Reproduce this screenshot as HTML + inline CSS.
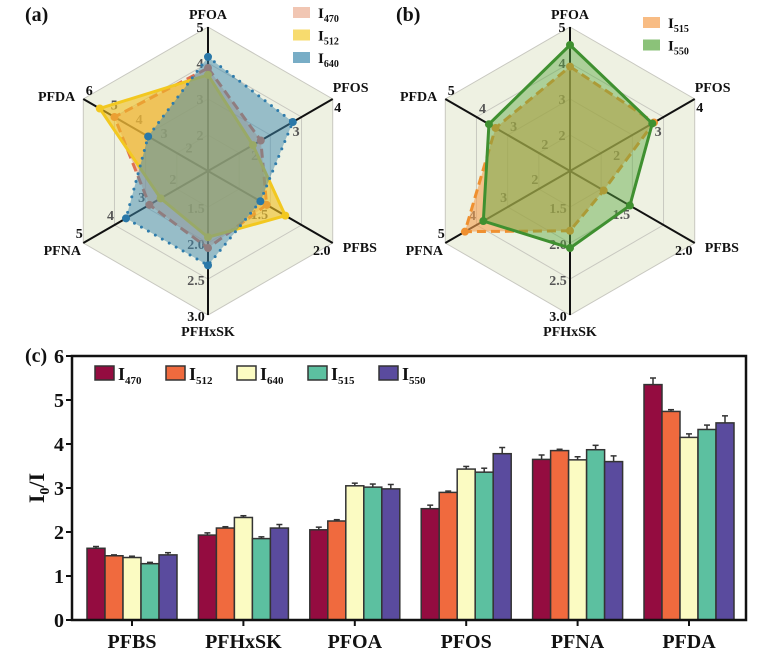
<!DOCTYPE html>
<html><head><meta charset="utf-8"><style>
body{margin:0;background:#fff}
svg{display:block;font-family:"Liberation Serif",serif;font-weight:bold}
</style></head><body>
<svg id="s" width="775" height="656" viewBox="0 0 775 656"></svg>
<script>
const categories=["PFBS","PFHxSK","PFOA","PFOS","PFNA","PFDA"];
const seriesNames=["470","512","640","515","550"];
const v470=[1.63,1.93,2.05,2.53,3.65,5.35];
const v512=[1.46,2.09,2.25,2.90,3.85,4.74];
const v640=[1.42,2.33,3.05,3.43,3.64,4.15];
const v515=[1.28,1.85,3.02,3.36,3.87,4.33];
const v550=[1.48,2.09,2.98,3.78,3.60,4.48];
const e470=[0.04,0.05,0.06,0.08,0.1,0.15];
const e512=[0.02,0.03,0.03,0.03,0.03,0.04];
const e640=[0.03,0.04,0.06,0.06,0.07,0.08];
const e515=[0.03,0.04,0.07,0.09,0.1,0.1];
const e550=[0.05,0.08,0.1,0.14,0.13,0.16];
const yTicks=[0,1,2,3,4,5,6];
// radar data: axes order PFOA, PFOS, PFBS, PFHxSK, PFNA, PFDA
const radarAxes=["PFOA","PFOS","PFBS","PFHxSK","PFNA","PFDA"];
const aMin=[1,1,1,1,1,1];
const aMax=[5,4,2,3,5,6];
const bMax=[5,4,2,3,5,5];
const aI470=[3.86,2.27,1.47,2.07,2.88,4.75];
const aI512=[3.67,2.08,1.62,1.92,2.52,5.34];
const aI640=[4.17,3.04,1.42,2.31,3.63,3.4];
const bI515=[3.9,3.02,1.27,1.83,4.37,3.39];
const bI550=[4.5,2.98,1.48,2.07,3.78,3.6];
const aTickLabels=[["2","3","4","5"],["2","3","4"],["1.5","2.0"],["1.5","2.0","2.5","3.0"],["2","3","4","5"],["2","3","4","5","6"]];
const bTickLabels=[["2","3","4","5"],["2","3","4"],["1.5","2.0"],["1.5","2.0","2.5","3.0"],["2","3","4","5"],["2","3","4","5"]];

const S=document.getElementById('s');
const NS="http://www.w3.org/2000/svg";
function mk(t,at,p){const e=document.createElementNS(NS,t);for(const k in at)e.setAttribute(k,at[k]);(p||S).appendChild(e);return e;}

// ---------- radar ----------
const R=144;
const angles=[90,30,-30,-90,210,150];
const tickOff=[[-8,5],[5,13],[-11,12],[-12,6],[-4,-5],[6,-4]];
function rpt(cx,cy,i,r){const a=angles[i]*Math.PI/180;return [cx+r*Math.cos(a),cy-r*Math.sin(a)];}
function radar(cx,cy,maxs,tickLabels,series,legend,lx,ly,tag,label){
  const g=mk('g',{});
  
  
  const outer=[0,1,2,3,4,5].map(i=>rpt(cx,cy,i,R).join(',')).join(' ');
  mk('polygon',{points:outer,fill:'#eef1e2',stroke:'#c8c8c0','stroke-width':1},g);
  [0.25,0.5,0.75].forEach(f=>{
    mk('polygon',{points:[0,1,2,3,4,5].map(i=>rpt(cx,cy,i,R*f).join(',')).join(' '),fill:'none',stroke:'#c8c8c0','stroke-width':1},g);
  });
  for(let i=0;i<6;i++){const p=rpt(cx,cy,i,R);mk('line',{x1:cx,y1:cy,x2:p[0],y2:p[1],stroke:'#111','stroke-width':2},g);}
  for(let i=0;i<6;i++){
    const tl=tickLabels[i];const rng=maxs[i]-aMin[i];
    tl.forEach(t=>{
      const v=parseFloat(t);const r=(v-aMin[i])/rng*R;
      const p=rpt(cx,cy,i,r);
      const outerLbl=Math.abs(r-R)<1;
      const el=mk('text',{x:p[0]+tickOff[i][0],y:p[1]+tickOff[i][1],'font-size':14,fill:outerLbl?'#111':'#555','text-anchor':'middle'},g);
      el.textContent=t;
      
      
    });
  }
  series.forEach(s=>{
    const pts=s.vals.map((v,i)=>rpt(cx,cy,i,(v-aMin[i])/(maxs[i]-aMin[i])*R));
    const poly=mk('polygon',{points:pts.map(p=>p.join(',')).join(' '),fill:s.fill,'fill-opacity':s.op,stroke:s.stroke,'stroke-width':3,'stroke-dasharray':s.dash,'stroke-linecap':s.cap||'butt'},g);
    
    
    pts.forEach(p=>{const c=mk('circle',{cx:p[0],cy:p[1],r:4,fill:s.dot},g);
      
      });
  });
  const tp=[[cx,cy-R-8,'middle'],[cx+R*0.866,cy-R*0.5-7,'start'],[cx+R*0.866+10,cy+R*0.5+9,'start'],[cx,cy+R+21,'middle'],[cx-R*0.866-21,cy+R*0.5+12,'middle'],[cx-R*0.866-8,cy-R*0.5+2,'end']];
  radarAxes.forEach((n,i)=>{const t=mk('text',{x:tp[i][0],y:tp[i][1],'font-size':14,'text-anchor':tp[i][2],fill:'#111'},g);t.textContent=n;
    
    });
  legend.forEach((l,k)=>{
    mk('rect',{x:lx,y:ly+k*22.5,width:17,height:11,fill:l.fill,'fill-opacity':l.op+0.1},g);
    const t=mk('text',{x:lx+25,y:ly+k*22.5+11,'font-size':15,fill:'#111'},g);
    t.innerHTML='I<tspan font-size="10" dy="4">'+l.name+'</tspan>';
    
    
  });
  const lt=mk('text',{x:label[0],y:label[1],'font-size':20,fill:'#111'},g);lt.textContent=label[2];
}
radar(208,171,aMax,aTickLabels,[
  {name:'470',vals:aI470,fill:'#e8a080',op:0.5,stroke:'#e07050',dash:'9,5',dot:'#e07050'},
  {name:'512',vals:aI512,fill:'#f2c020',op:0.6,stroke:'#f2c820',dash:'none',dot:'#f2c820'},
  {name:'640',vals:aI640,fill:'#3f8aae',op:0.5,stroke:'#2f7cab',dash:'0,8',cap:'round',dot:'#2a78a8'}
],[{name:'470',fill:'#e8a080',op:0.5},{name:'512',fill:'#f2c820',op:0.55},{name:'640',fill:'#3f8aae',op:0.6}],293,7,'a',[25,21,'(a)']);
radar(570,171,bMax,bTickLabels,[
  {name:'515',vals:bI515,fill:'#f5a050',op:0.6,stroke:'#ef9030',dash:'9,5',dot:'#ef9030'},
  {name:'550',vals:bI550,fill:'#5aa840',op:0.45,stroke:'#3f9030',dash:'none',dot:'#3f9030'}
],[{name:'515',fill:'#f5a050',op:0.6},{name:'550',fill:'#5aa840',op:0.6}],643,17,'b',[396,21,'(b)']);

// ---------- bar chart ----------
const X0=72,X1=746,Y0=620,Y1=356;
const y=v=>Y0-(v/6)*(Y0-Y1);
const catX=i=>132+i*111.4;
const vals=[v470,v512,v640,v515,v550];
const errs=[e470,e512,e640,e515,e550];
const colors=["#940c40","#f06a3e","#fbfbc2","#5cc0a0","#5a4b9e"];
const bg=mk('g',{});


const bw=18;
categories.forEach((c,i)=>{
  vals.forEach((arr,k)=>{
    const x=catX(i)+(k-2)*bw-bw/2;
    const top=y(arr[i]);
    const et=y(arr[i]+errs[k][i]);
    mk('line',{x1:x+bw/2,y1:top,x2:x+bw/2,y2:et,stroke:'#333','stroke-width':1.5},bg);
    mk('line',{x1:x+bw/2-3,y1:et,x2:x+bw/2+3,y2:et,stroke:'#333','stroke-width':1.5},bg);
    const r=mk('rect',{x:x,y:top,width:bw,height:Y0-top,fill:colors[k],stroke:'#333','stroke-width':1.5},bg);
    
    
  });
  mk('line',{x1:catX(i),y1:Y0,x2:catX(i),y2:Y0+6,stroke:'#111','stroke-width':2},bg);
  const t=mk('text',{x:catX(i),y:Y0+28,'font-size':20,'text-anchor':'middle',fill:'#111'},bg);
  t.textContent=c;
  
  
});
mk('rect',{x:X0,y:Y1,width:X1-X0,height:Y0-Y1,fill:'none',stroke:'#111','stroke-width':2.5},bg);
yTicks.forEach(v=>{
  mk('line',{x1:X0-6,y1:y(v),x2:X0,y2:y(v),stroke:'#111','stroke-width':2},bg);
  const t=mk('text',{x:X0-8,y:y(v)+7,'font-size':20,'text-anchor':'end',fill:'#111'},bg);
  t.textContent=v;
  
  
});
const yl=mk('text',{x:0,y:0,'font-size':22,'text-anchor':'middle',fill:'#111',transform:'translate(44,488) rotate(-90)'},bg);
yl.innerHTML='I<tspan font-size="14" dy="5">0</tspan><tspan dy="-5">/I</tspan>';


const cl=mk('text',{x:25,y:362,'font-size':20,fill:'#111'},bg);cl.textContent='(c)';
seriesNames.forEach((n,k)=>{
  const lx=95+k*71;
  const r=mk('rect',{x:lx,y:366,width:19,height:14,fill:colors[k],stroke:'#333','stroke-width':1.5},bg);
  
  
  const t=mk('text',{x:lx+23,y:380,'font-size':18,fill:'#111'},bg);
  t.innerHTML='I<tspan font-size="11" dy="4">'+n+'</tspan>';
  
  
});
</script>
</body></html>
